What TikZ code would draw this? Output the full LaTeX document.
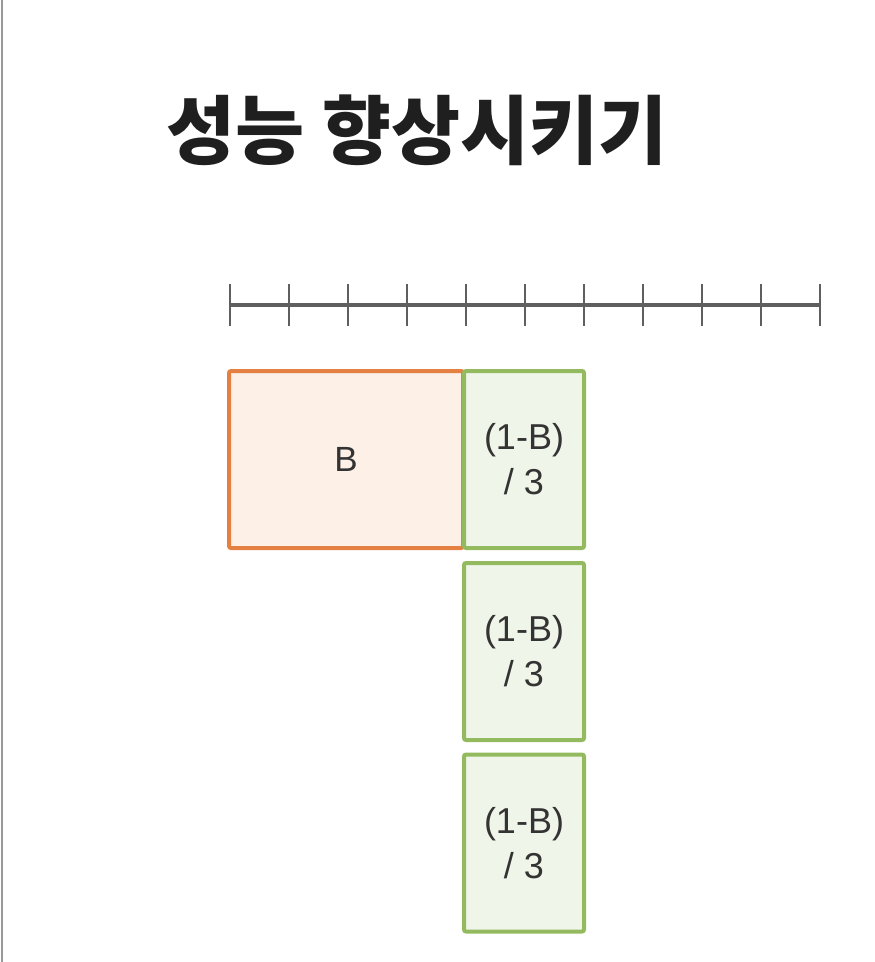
\documentclass[tikz,border=0pt]{standalone}
\usepackage{fontspec}
\setmainfont{Liberation Sans}
\newfontfamily\kofont{Noto Sans CJK KR}
\usetikzlibrary{positioning}

\definecolor{partOrange}{RGB}{228,128,66}
\definecolor{partOrangeFill}{RGB}{252,240,231}
\definecolor{partGreen}{RGB}{148,186,96}
\definecolor{partGreenFill}{RGB}{240,245,233}
\definecolor{axisGray}{RGB}{95,95,95}

\tikzset{
    serialbox/.style={draw=partOrange, fill=partOrangeFill, line width=2pt, rounded corners=1pt,
        minimum width=117pt, minimum height=88.5pt, inner sep=0pt, font=\fontsize{17.5}{22.5}\selectfont},
    parallelbox/.style={draw=partGreen, fill=partGreenFill, line width=2pt, rounded corners=1pt,
        minimum width=60pt, minimum height=88.5pt, inner sep=0pt, align=center,
        font=\fontsize{18}{22.5}\selectfont, text=black!80}
}

\begin{document}
\begin{tikzpicture}[x=0.5pt, y=-0.5pt]

% ===== Page frame =====
\useasboundingbox (0,0) rectangle (874,962);
\draw[gray!80, line width=1pt] (2,0) -- (2,962);

% ===== Define axis parameters =====
\def\nTicks{10}      % number of intervals on the time axis
\def\xStart{230}     % left end of the axis
\def\tickSep{59}     % distance between ticks
\def\yAxis{305}      % y-coordinate of the axis

% ===== Title =====
\node[inner sep=0pt, font=\kofont\bfseries\fontsize{37.5}{44}\selectfont, text=black!88] (title) at (417,130) {성능 향상시키기};

% ===== Time axis =====
\coordinate (axL) at (\xStart,\yAxis);
\coordinate (axR) at (\xStart+\nTicks*\tickSep,\yAxis);
\draw[axisGray, line width=1.8pt] (axL) -- (axR);
\foreach \i in {0,...,\nTicks} {
    \pgfmathsetmacro\x{\xStart+\i*\tickSep} % calculate x-position
    \draw[axisGray, line width=1.3pt] (\x,\yAxis-21) -- (\x,\yAxis+21);
}

% ===== Serial part =====
\node[serialbox, text=black!80] (B) at (346,459.5) {B};

% ===== Parallel parts =====
\foreach \i/\y in {1/459.5, 2/651.5, 3/843} {
    \node[parallelbox] (G\i) at (524,\y) {(1-B)\\/ 3};
}

\end{tikzpicture}
\end{document}
